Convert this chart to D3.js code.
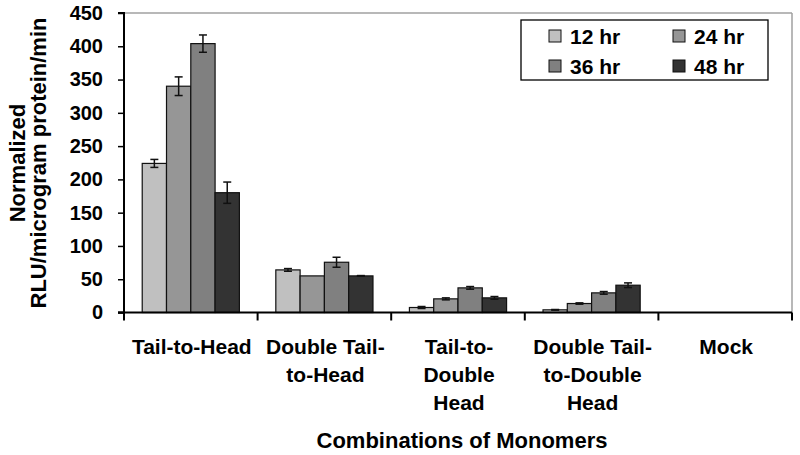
<!DOCTYPE html>
<html>
<head>
<meta charset="utf-8">
<script src="https://cdn.jsdelivr.net/npm/d3@7"></script>
<style>
  html, body { margin: 0; padding: 0; background: #fff; }
  svg { display: block; font-family: "Liberation Sans", Arial, Helvetica, sans-serif; font-weight: bold; }
</style>
</head>
<body>
<svg id="chart" width="800" height="455"></svg>
<script>
// ---- data ----
const categories = ["Tail-to-Head", "Double Tail-to-Head", "Tail-to-Double Head", "Double Tail-to-Double Head", "Mock"];
const categoryLines = [["Tail-to-Head"], ["Double Tail-", "to-Head"], ["Tail-to-", "Double", "Head"], ["Double Tail-", "to-Double", "Head"], ["Mock"]];
const series = ["12 hr", "24 hr", "36 hr", "48 hr"];
const values12 = [224, 64, 7.5, 4, 0];
const values24 = [340, 55, 20.5, 13.5, 0];
const values36 = [404, 75.5, 37, 29.5, 0];
const values48 = [180, 55, 22, 41, 0];
const err12 = [6, 2, 1.5, 0.5, 0];
const err24 = [14, 0, 1.5, 1, 0];
const err36 = [13, 7.5, 2, 2, 0];
const err48 = [16, 0.5, 2, 3.5, 0];
const yTicks = [0, 50, 100, 150, 200, 250, 300, 350, 400, 450];
const colors = ["#c0c0c0", "#969696", "#808080", "#333333"];

const allValues = [values12, values24, values36, values48];
const allErrors = [err12, err24, err36, err48];

(function () {
const svg = d3.select("#chart");
const mLeft = 124, mRight = 792, mTop = 13, mBottom = 312.5;

const x = d3.scaleBand().domain(categories).range([mLeft, mRight]).paddingInner(0).paddingOuter(0);
const xs = d3.scaleBand().domain(series).range([0, x.bandwidth()]).paddingInner(0).paddingOuter(0.75);
const y = d3.scaleLinear().domain([0, 450]).range([mBottom, mTop]);

// plot area border (top & right, gray)
svg.append("line").attr("x1", mLeft).attr("x2", mRight).attr("y1", y(450)).attr("y2", y(450))
  .attr("stroke", "#a0a0a0").attr("stroke-width", 1.5);
svg.append("line").attr("x1", mRight).attr("x2", mRight).attr("y1", y(450)).attr("y2", y(0))
  .attr("stroke", "#a0a0a0").attr("stroke-width", 1.5);

// bars
const data = [];
categories.forEach((c, i) => series.forEach((s, j) => data.push({ c, s, j, v: allValues[j][i], e: allErrors[j][i] })));

svg.append("g").selectAll("rect").data(data.filter(d => d.v > 0)).join("rect")
  .attr("x", d => x(d.c) + xs(d.s))
  .attr("y", d => y(d.v))
  .attr("width", xs.bandwidth())
  .attr("height", d => y(0) - y(d.v))
  .attr("fill", d => colors[d.j])
  .attr("stroke", "#111")
  .attr("stroke-width", 1.2);

// error bars
const eg = svg.append("g").attr("stroke", "#111").attr("stroke-width", 1.5);
data.filter(d => d.e > 0).forEach(d => {
  const cx = x(d.c) + xs(d.s) + xs.bandwidth() / 2;
  const y1 = y(d.v + d.e), y2 = y(d.v - d.e);
  eg.append("line").attr("x1", cx).attr("x2", cx).attr("y1", y1).attr("y2", y2);
  eg.append("line").attr("x1", cx - 4).attr("x2", cx + 4).attr("y1", y1).attr("y2", y1);
  eg.append("line").attr("x1", cx - 4).attr("x2", cx + 4).attr("y1", y2).attr("y2", y2);
});

// y axis
const yAxis = d3.axisLeft(y).tickValues(yTicks).tickSize(6).tickPadding(15);
const yg = svg.append("g").attr("transform", `translate(${mLeft},0)`).call(yAxis);
yg.select(".domain").attr("stroke", "#000").attr("stroke-width", 2).attr("d", `M-6,${y(450)}H0V${y(0)}H-6`);
yg.selectAll(".tick line").attr("stroke", "#000").attr("stroke-width", 1.5);
yg.selectAll(".tick text").attr("font-size", 20).attr("font-weight", "bold").attr("fill", "#000")
  .attr("font-family", "'Liberation Sans', Arial, sans-serif");

// x axis line and category tick marks
const boundaries = categories.map(c => x(c)).concat([mRight]);
svg.append("line").attr("x1", mLeft - 6).attr("x2", mRight).attr("y1", y(0)).attr("y2", y(0))
  .attr("stroke", "#000").attr("stroke-width", 2);
svg.append("g").selectAll("line").data(boundaries).join("line")
  .attr("x1", d => d).attr("x2", d => d).attr("y1", y(0)).attr("y2", y(0) + 8)
  .attr("stroke", "#000").attr("stroke-width", 2);

// category labels
const lg = svg.append("g").attr("font-size", 21).attr("text-anchor", "middle").attr("fill", "#000");
categories.forEach((c, i) => {
  const cx = x(c) + x.bandwidth() / 2 + 1;
  const t = lg.append("text").attr("x", cx).attr("y", 354);
  categoryLines[i].forEach((ln, k) => {
    t.append("tspan").attr("x", cx).attr("y", 354 + k * 28).text(ln);
  });
});

// axis titles
svg.append("text").attr("x", (mLeft + mRight) / 2 + 4).attr("y", 448).attr("text-anchor", "middle")
  .attr("font-size", 22).text("Combinations of Monomers");
svg.append("text").attr("transform", "translate(25,163) rotate(-90)").attr("text-anchor", "middle")
  .attr("font-size", 22).text("Normalized");
svg.append("text").attr("transform", "translate(46,163) rotate(-90)").attr("text-anchor", "middle")
  .attr("font-size", 22).text("RLU/microgram protein/min");

// legend
const leg = svg.append("g");
leg.append("rect").attr("x", 521).attr("y", 20).attr("width", 247).attr("height", 60)
  .attr("fill", "#fff").attr("stroke", "#000").attr("stroke-width", 1.3);
const legPos = [[549, 30], [673, 30], [549, 60], [673, 60]];
series.forEach((s, j) => {
  const [lx, ly] = legPos[j];
  leg.append("rect").attr("x", lx).attr("y", ly).attr("width", 12).attr("height", 12)
    .attr("fill", colors[j]).attr("stroke", "#111").attr("stroke-width", 1);
  leg.append("text").attr("x", lx + 21).attr("y", ly + 13.5).attr("font-size", 21).text(s);
});
})();
</script>
</body>
</html>
